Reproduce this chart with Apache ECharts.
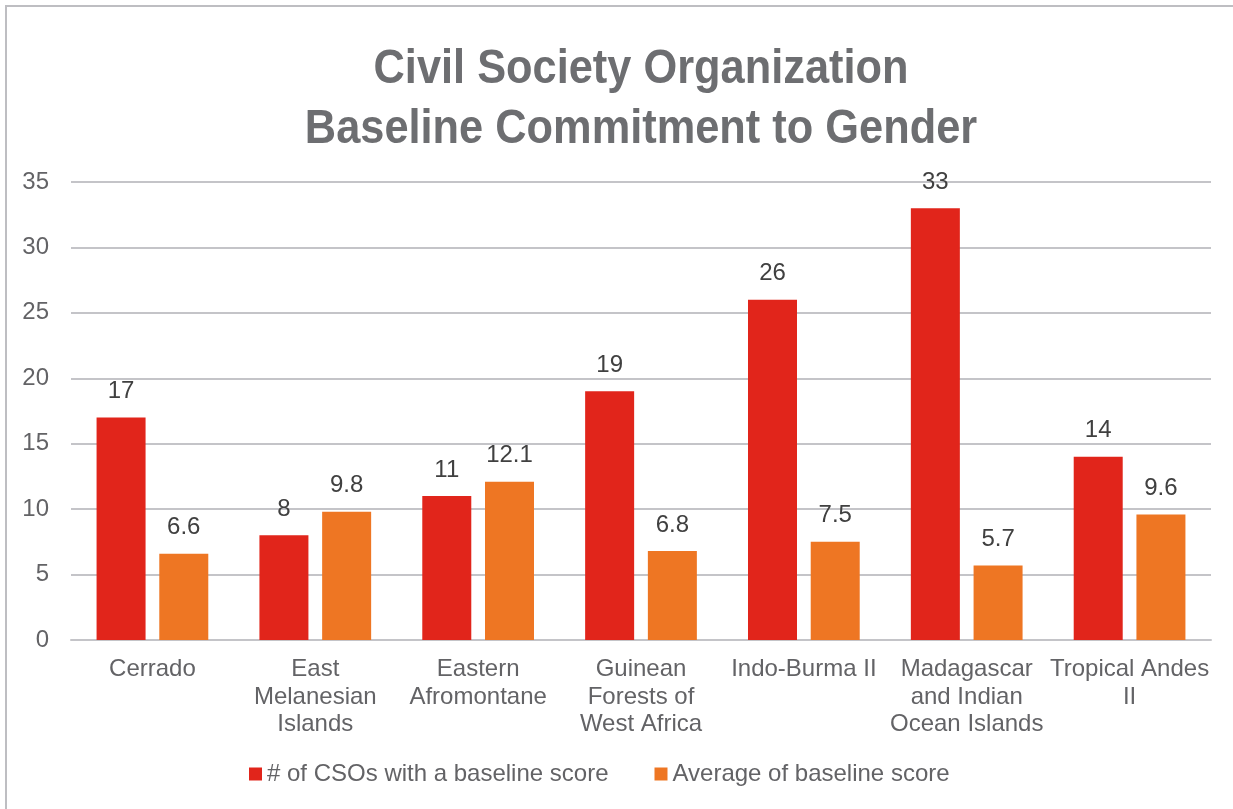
<!DOCTYPE html>
<html>
<head>
<meta charset="utf-8">
<script src="https://cdn.jsdelivr.net/npm/echarts@6/dist/echarts.min.js"></script>
<style>
html,body{margin:0;padding:0;background:#fff;overflow:hidden;}
#frame{position:absolute;left:5px;top:5px;width:1300px;height:900px;border-left:2px solid #BEBEC2;border-top:2px solid #BEBEC2;}
#chart{position:absolute;left:0;top:0;width:1233px;height:809px;}
</style>
</head>
<body>
<div id="frame"></div>
<div id="chart"></div>
<script>
const titleLines = ['Civil Society Organization', 'Baseline Commitment to Gender'];
const categories = [
  'Cerrado',
  'East\nMelanesian\nIslands',
  'Eastern\nAfromontane',
  'Guinean\nForests of\nWest Africa',
  'Indo-Burma II',
  'Madagascar\nand Indian\nOcean Islands',
  'Tropical Andes\nII'
];
const seriesNames = ['# of CSOs with a baseline score', 'Average of baseline score'];
const csoCount = [17, 8, 11, 19, 26, 33, 14];
const avgScore = [6.6, 9.8, 12.1, 6.8, 7.5, 5.7, 9.6];
const yTicks = [0, 5, 10, 15, 20, 25, 30, 35];

const FONT = '"Liberation Sans", Arial, Helvetica, sans-serif';
const chart = echarts.init(document.getElementById('chart'), null, {renderer: 'canvas'});

const labelStyle = {
  show: true, position: 'top', distance: 14,
  color: '#404040', fontSize: 24, fontFamily: FONT
};

function titleText(txt, y) {
  return {type: 'text', x: 641, y: y, scaleX: 0.885, scaleY: 1,
    style: {text: txt, font: 'bold 49px ' + FONT, fill: '#6D6E71',
            align: 'center', verticalAlign: 'middle', textAlign: 'center', textVerticalAlign: 'middle'}};
}

chart.setOption({
  animation: false,
  backgroundColor: 'transparent',
  graphic: [titleText(titleLines[0], 69), titleText(titleLines[1], 129)],
  legend: {
    left: 249, top: 762, padding: 0,
    itemWidth: 13, itemHeight: 13, itemGap: 46,
    icon: 'rect',
    textStyle: {color: '#636366', fontSize: 24, fontFamily: FONT},
    data: seriesNames
  },
  grid: {left: 71, right: 22, top: 182, height: 458, containLabel: false},
  xAxis: {
    type: 'category',
    data: categories,
    axisTick: {show: false},
    axisLine: {show: true, lineStyle: {color: '#C4C4C8', width: 2}},
    axisLabel: {
      interval: 0, margin: 16, color: '#636366', fontSize: 24,
      fontFamily: FONT, lineHeight: 27.5
    }
  },
  yAxis: {
    type: 'value',
    min: yTicks[0], max: yTicks[yTicks.length - 1], interval: 5,
    axisLine: {show: false},
    axisTick: {show: false},
    splitLine: {lineStyle: {color: '#C4C4C8', width: 2}},
    axisLabel: {margin: 22, color: '#636366', fontSize: 24, fontFamily: FONT}
  },
  series: [
    {
      name: seriesNames[0], type: 'bar', data: csoCount,
      barWidth: 49, barGap: '28%',
      itemStyle: {color: '#E1251B'},
      label: labelStyle
    },
    {
      name: seriesNames[1], type: 'bar', data: avgScore,
      barWidth: 49,
      itemStyle: {color: '#EE7623'},
      label: labelStyle
    }
  ]
});
</script>
</body>
</html>
